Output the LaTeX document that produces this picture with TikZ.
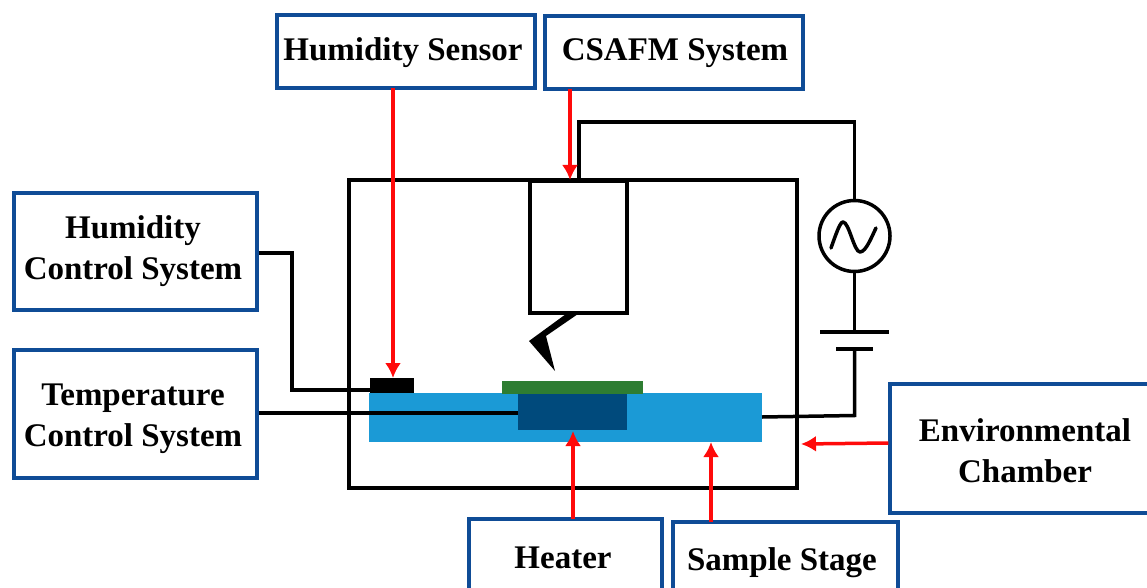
\documentclass[tikz,border=0pt]{standalone}
\usepackage{fontspec}
\setmainfont{Liberation Serif}
\usetikzlibrary{arrows.meta}
\definecolor{boxblue}{HTML}{0F4C96}
\definecolor{stageblue}{HTML}{1B9AD6}
\definecolor{heaterblue}{HTML}{004A7C}
\definecolor{samplegreen}{HTML}{2E7D32}
\definecolor{arrowred}{HTML}{FF0A0A}
\tikzset{
  x=1pt,y=-1pt,
  label box/.style={draw=boxblue,line width=3.2pt,fill=white,inner sep=0pt},
  label text/.style={inner sep=0pt,align=center,font=\bfseries\fontsize{33}{41}\selectfont},
  wire/.style={draw=black,line width=3.5pt,line join=miter},
  red arrow/.style={draw=arrowred,line width=3.5pt,-{Latex[length=15pt,width=16pt]}},
  solid part/.style={inner sep=0pt,outer sep=0pt,draw=none},
}
% name, x1,y1,x2,y2, text, text centre x, text centre y
\newcommand{\lbox}[8]{%
  \node[label box,minimum width=#4-#2,minimum height=#5-#3] (#1) at ({(#2+#4)/2},{(#3+#5)/2}) {};
  \node[label text] (#1text) at (#7,#8) {#6};}
\begin{document}
\begin{tikzpicture}
\useasboundingbox (0,0) rectangle (1147,588);
\clip (0,0) rectangle (1147,588);
% stage parts
\node[solid part,fill=stageblue,minimum width=393pt,minimum height=49pt] (stage) at (565.5,417.5) {};
\node[solid part,fill=heaterblue,minimum width=109pt,minimum height=36pt] (heater) at (572.5,412) {};
\node[solid part,fill=samplegreen,minimum width=141pt,minimum height=13pt] (sample) at (572.5,387.5) {};
\node[solid part,fill=black,minimum width=44pt,minimum height=15pt] (sensor) at (392,385.5) {};
% chamber and probe
\node[draw=black,line width=4pt,minimum width=448pt,minimum height=308pt,inner sep=0pt] (chamber) at (573,334) {};
\node[draw=black,line width=4pt,fill=white,minimum width=97pt,minimum height=132pt,inner sep=0pt] (probe) at (578.5,247) {};
\fill[black] (578,314) -- (566,314) -- (529,341) -- (555,371) -- (546,336) -- cycle;
% source
\node[draw=black,line width=3.5pt,circle,minimum size=71pt,inner sep=0pt] (ac) at (854.5,236) {};
\draw[line width=3.5pt,line cap=round,line join=round] (831,248) .. controls (836,234) and (840,222) .. (843,222)
   .. controls (849,222) and (854,252) .. (860,252) .. controls (866,252) and (872,236) .. (876,228);
\coordinate (top) at (579,180);
\coordinate (plateA) at (854.5,332);
\coordinate (plateB) at (854.5,349);
\draw[wire] (top) -- (579,122) -- (854.5,122) -- (ac.north);
\draw[wire] (ac.south) -- (plateA);
\draw[wire] (820,332) -- (889,332);
\draw[wire] (836,349) -- (873,349);
\draw[wire] (plateB) -- (854.5,415.5) -- (stage.east |- 0,417);
% boxes
\lbox{hs}{277}{15}{535}{88}{Humidity Sensor}{403}{53}
\lbox{cs}{545}{16}{803}{89}{CSAFM System}{675}{53}
\lbox{hc}{14}{193}{257}{310}{Humidity\\Control System}{133}{251}
\lbox{tc}{14}{350}{257}{478}{Temperature\\Control System}{133}{419}
\lbox{env}{890}{384}{1160}{513}{Environmental\\Chamber}{1025}{450.5}
\lbox{ht}{469}{519}{662}{595}{Heater}{563}{558}
\lbox{ss}{673}{522}{898}{596}{Sample Stage}{782}{562.5}
% wires from the control boxes
\draw[wire] (hc.east |- 0,253) -- (292,253) -- (292,390) -- (sensor.west |- 0,390);
\draw[wire] (tc.east |- 0,413) -- (heater.west |- 0,413);
% red arrows
\draw[red arrow] (393,88) -- (393,378);
\draw[red arrow] (570,89) -- (570,180);
\draw[red arrow] (573,519) -- (573,431);
\draw[red arrow] (711,522) -- (711,442);
\draw[red arrow] (env.west |- 0,443) -- (801,444);
\end{tikzpicture}
\end{document}
